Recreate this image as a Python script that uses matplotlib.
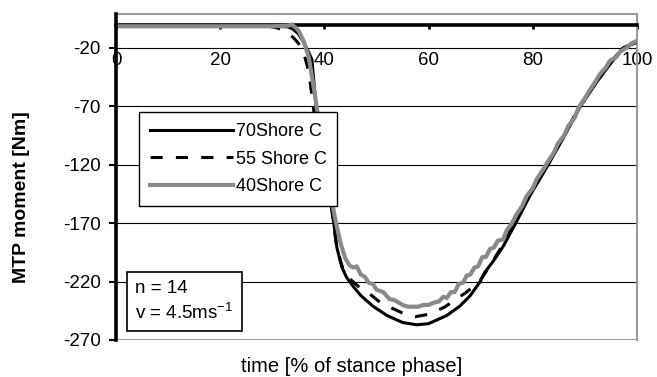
import matplotlib.pyplot as plt

plt.rcParams['font.family'] = ['Liberation Sans', 'DejaVu Sans']
plt.rcParams['mathtext.default'] = 'regular'
plt.rcParams['axes.unicode_minus'] = False

# time [% of stance phase] and MTP moment [Nm]
t_70 = [0, 10, 20, 30, 33, 34, 35, 36, 37, 37.6, 38.5, 39.5, 40.7, 41.4, 42.4,
        43.3, 44.2, 45.5, 47, 49.3, 52, 55, 57.7, 60, 62, 63.5, 66, 68, 69.9,
        70.8, 72.5, 74.3, 76.6, 79.5, 82.7, 86, 89, 92.3, 95, 97.3, 100]
m_70 = [-1.5, -1.5, -1.5, -1.5, -2, -4, -8, -15, -24, -30, -75, -100, -128, -156, -191,
        -207, -216, -224, -232, -241, -249, -255, -257, -256, -252, -249, -241, -232, -220,
        -212, -202, -190, -171, -146, -122, -96, -71, -49, -33, -20, -15]

t_55 = [0, 10, 20, 29, 30, 31, 32, 33, 34, 35, 36, 37, 38, 39.5, 40.5, 41.4, 42.4,
        43.5, 45.2, 47, 49.1, 51, 53.6, 55.5, 57.5, 60, 63, 65, 67.3, 69.9, 72,
        74.3, 76.6, 79.5, 82.7, 86, 89, 92.3, 95, 97.3, 100]
m_55 = [-1.5, -1.5, -1.5, -1.5, -2, -3, -5, -8, -11, -16, -24, -40, -75, -100, -130, -158, -192,
        -208, -219, -226, -232, -239, -244, -248, -250, -248, -242, -236, -229, -219, -205,
        -188, -168, -144, -120, -94, -70, -48, -32, -20, -15]

t_40 = [0, 10, 20, 30, 33, 33.8, 35, 36, 37, 38, 39, 40, 41, 42, 43, 43.3, 44, 44.8,
        45.5, 46.2, 47, 47.8, 48.5, 49.3, 50, 51.3, 52.5, 53.5, 55, 56, 58, 59,
        60, 61, 62, 62.8, 63.5, 64.3, 65, 65.8, 66.6, 67.3, 68, 68.8, 69.5, 70.3,
        71, 71.8, 72.5, 73.3, 74.3, 75, 76, 76.8, 78, 78.8, 80, 80.8, 82, 82.8,
        84, 84.8, 86, 86.8, 88, 88.8, 90, 90.8, 92, 92.8, 94, 94.8, 96, 96.8, 98, 99, 100]
m_40 = [-1.5, -1.5, -1.5, -1.5, -1, 0, -5, -14, -28, -55, -85, -110, -140, -165, -185, -190, -200, -206,
        -208, -207, -214, -216, -221, -222, -227, -229, -235, -236, -240, -241.5, -241.5, -240,
        -240, -238, -237, -233, -234, -229, -229, -222, -221, -215, -214, -208, -207, -199,
        -199, -192, -191, -185, -184, -176, -170, -163, -155, -147, -140, -132, -124, -118,
        -110, -102, -95, -87, -80, -71, -63, -57, -49, -43, -37, -31, -28, -23, -20, -16, -14]

labels = ['70Shore C', '55 Shore C', '40Shore C']
x_ticks = [0, 20, 40, 60, 80, 100]
y_ticks = [-270, -220, -170, -120, -70, -20]

fig = plt.figure(figsize=(6.57, 3.77), dpi=100)
ax = fig.add_axes([116 / 657, 1 - 340 / 377, 521 / 657, 326 / 377])

ax.plot(t_70, m_70, color='black', lw=2.2, label=labels[0], zorder=4)
ax.plot(t_55, m_55, color='black', lw=2.2, ls=(0, (4, 4.3)), label=labels[1], zorder=5)
ax.plot(t_40, m_40, color='#8a8a8a', lw=3, label=labels[2], zorder=6)

ax.set_xlim(0, 100)
ax.set_ylim(-270, 9)
ax.set_xticks(x_ticks)
ax.set_yticks(y_ticks)

# gridlines (black, thin) and grey plot-area frame
for v in y_ticks[1:]:
    ax.axhline(v, color='black', lw=0.8, zorder=1)
ax.axhline(-270, color='#9a9a9a', lw=1.5, zorder=2)

ax.spines['left'].set_linewidth(2.6)
ax.spines['left'].set_zorder(7)
ax.spines['bottom'].set_position(('data', 0))
ax.spines['bottom'].set_linewidth(2.6)
ax.spines['bottom'].set_zorder(3)
ax.spines['top'].set_color('#9a9a9a')
ax.spines['top'].set_linewidth(1.5)
ax.spines['right'].set_color('#9a9a9a')
ax.spines['right'].set_linewidth(1.5)

ax.tick_params(axis='x', direction='out', length=3, width=2, pad=17, labelsize=13.5)
ax.tick_params(axis='y', direction='out', length=5, width=1.5, pad=6, labelsize=13.5)

leg = ax.legend(loc='upper left', bbox_to_anchor=(139 / 657, 1 - 112 / 377),
                bbox_transform=fig.transFigure, fontsize=13, frameon=True,
                fancybox=False, edgecolor='black', framealpha=1, handlelength=4.6,
                handletextpad=0.15, labelspacing=0.6, borderpad=0.6, borderaxespad=0)
leg.get_frame().set_linewidth(1.0)
leg.set_zorder(8)

fig.text(135 / 657, 1 - 323 / 377, 'n = 14\nv = 4.5ms$^{-1}$', fontsize=13.5,
         ha='left', va='bottom', linespacing=1.35,
         bbox=dict(boxstyle='square,pad=0.45', fc='white', ec='black', lw=1.2))

fig.text(22 / 657, 1 - 197 / 377, 'MTP moment [Nm]', rotation=90, fontsize=14,
         fontweight='bold', ha='center', va='center')
fig.text(352 / 657, 1 - 367 / 377, 'time [% of stance phase]', fontsize=14.5,
         ha='center', va='center')

fig.savefig('out.png', dpi=100)
